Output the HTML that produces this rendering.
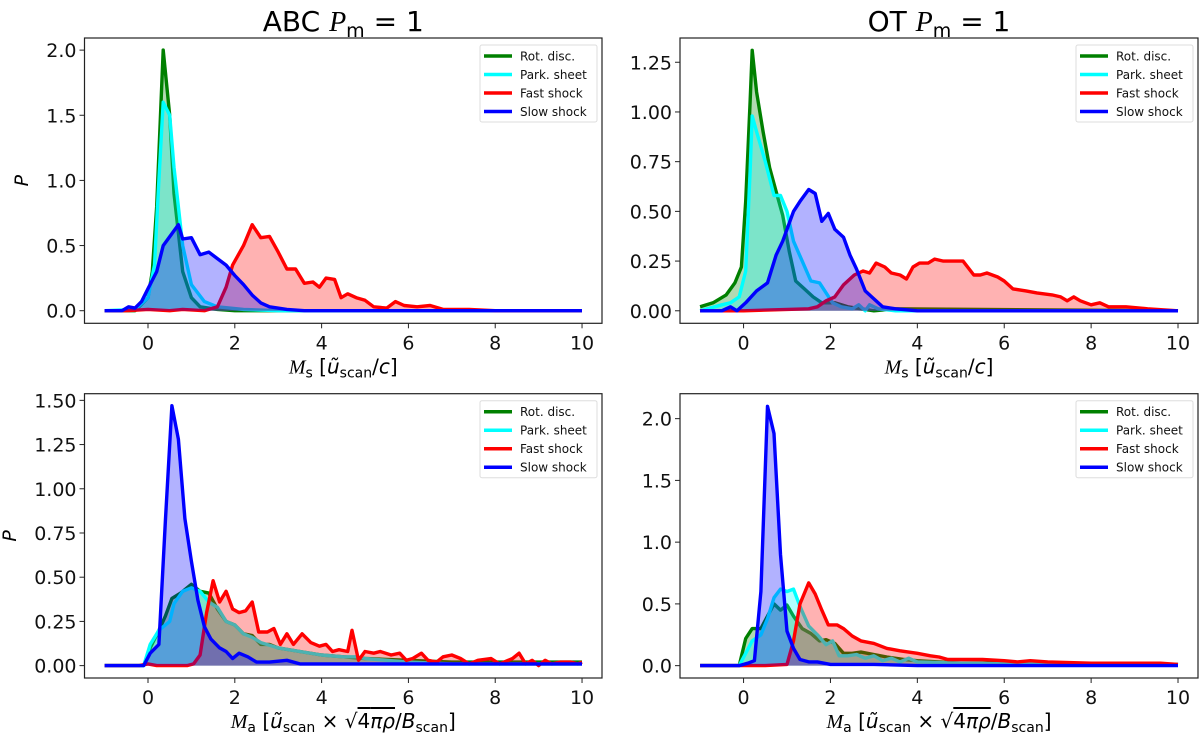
<!DOCTYPE html>
<html><head><meta charset="utf-8"><style>
body{margin:0;background:#fff;}
svg{display:block;font-family:"DejaVu Sans","Liberation Sans",sans-serif;}
</style></head><body>
<svg id="fig" width="1200" height="744" viewBox="0 0 1200 744"></svg>
<script>
const seriesNames=["Rot. disc.","Park. sheet","Fast shock","Slow shock"];
const seriesColors=["#008000","#00ffff","#ff0000","#0000ff"];
const xTicks=[0,2,4,6,8,10];
const yTicksTL=[0,0.5,1.0,1.5,2.0];
const yLabelsTL=["0.0","0.5","1.0","1.5","2.0"];
const yTicksTR=[0,0.25,0.5,0.75,1.0,1.25];
const yLabelsTR=["0.00","0.25","0.50","0.75","1.00","1.25"];
const yTicksBL=[0,0.25,0.5,0.75,1.0,1.25,1.5];
const yLabelsBL=["0.00","0.25","0.50","0.75","1.00","1.25","1.50"];
const yTicksBR=[0,0.5,1.0,1.5,2.0];
const yLabelsBR=["0.0","0.5","1.0","1.5","2.0"];

// Panel TL (ABC, Ms)
const tlRotX=[-1,-0.3,0,0.1,0.2,0.35,0.5,0.6,0.8,1.0,1.2,1.6,2,10];
const tlRotY=[0,0,0.1,0.3,0.8,2.0,1.5,0.9,0.3,0.1,0.03,0.01,0,0];
const tlParkX=[-1,-0.3,0,0.15,0.25,0.35,0.5,0.6,0.8,1,1.3,1.6,2.2,3,10];
const tlParkY=[0,0.01,0.1,0.35,1.0,1.6,1.5,1.1,0.5,0.2,0.07,0.03,0.01,0,0];
const tlFastX=[-1,-0.5,0,0.5,0.8,1.3,1.6,1.8,1.95,2.2,2.4,2.6,2.8,3.0,3.2,3.4,3.6,3.8,3.95,4.1,4.3,4.45,4.6,4.8,5.0,5.2,5.5,5.7,5.9,6.2,6.5,6.8,7.0,7.4,8,10];
const tlFastY=[0,0,0.01,0,0.01,0,0.03,0.18,0.35,0.5,0.66,0.56,0.57,0.45,0.32,0.32,0.21,0.22,0.18,0.25,0.24,0.1,0.13,0.1,0.08,0.03,0.02,0.07,0.04,0.03,0.04,0.01,0.01,0.01,0,0];
const tlSlowX=[-1,-0.6,-0.45,-0.3,-0.15,0,0.2,0.35,0.7,0.8,1.0,1.2,1.4,1.6,1.8,2.0,2.2,2.4,2.6,2.8,3.2,3.6,10];
const tlSlowY=[0,0,0.03,0.02,0.07,0.17,0.3,0.5,0.66,0.55,0.56,0.43,0.45,0.4,0.35,0.27,0.2,0.12,0.06,0.03,0.01,0,0];

// Panel TR (OT, Ms)
const trRotX=[-1,-0.7,-0.4,-0.2,-0.05,0.05,0.15,0.2,0.3,0.45,0.6,0.75,0.9,1.05,1.2,1.4,1.6,1.8,2.1,2.4,2.7,3.0,3.5,10];
const trRotY=[0.02,0.04,0.08,0.14,0.22,0.55,1.05,1.31,1.1,0.9,0.72,0.6,0.48,0.3,0.15,0.11,0.07,0.04,0.04,0.02,0.01,0,0.01,0];
const trParkX=[-1,-0.5,-0.3,-0.1,0.05,0.15,0.2,0.3,0.5,0.7,0.85,1.0,1.15,1.35,1.55,1.75,1.9,2.05,2.25,2.5,2.65,2.8,2.9,3.1,3.5,10];
const trParkY=[0,0.03,0.04,0.07,0.2,0.7,0.98,0.9,0.75,0.58,0.58,0.5,0.35,0.25,0.15,0.14,0.09,0.04,0.02,0.01,0.03,0,0.03,0.01,0,0];
const trFastX=[-1,-0.3,0,1.5,1.7,1.9,2.1,2.3,2.55,2.75,2.9,3.05,3.25,3.4,3.6,3.75,3.9,4.05,4.25,4.4,4.6,4.85,5.05,5.3,5.45,5.6,5.85,6.0,6.2,6.5,6.75,7.1,7.3,7.45,7.6,7.75,8.0,8.2,8.4,8.8,9.3,10];
const trFastY=[0,0,0,0.01,0.02,0.05,0.07,0.13,0.18,0.2,0.19,0.24,0.22,0.19,0.18,0.16,0.22,0.24,0.24,0.26,0.25,0.25,0.25,0.18,0.18,0.19,0.17,0.15,0.11,0.1,0.09,0.08,0.07,0.05,0.07,0.05,0.03,0.04,0.02,0.02,0.01,0];
const trSlowX=[-1,-0.5,-0.3,-0.15,0.05,0.3,0.55,0.75,0.9,1.15,1.3,1.5,1.65,1.8,1.95,2.1,2.3,2.45,2.6,2.8,2.95,3.2,3.5,4,10];
const trSlowY=[0,0,0.02,0,0.04,0.1,0.14,0.28,0.35,0.5,0.55,0.61,0.59,0.45,0.49,0.41,0.37,0.28,0.21,0.1,0.07,0.02,0.01,0,0];

// Panel BL (ABC, Ma)
const blRotX=[-1,-0.1,0.05,0.25,0.4,0.55,0.75,1.0,1.2,1.4,1.6,1.8,2.0,2.2,2.4,2.6,2.8,3.0,3.5,4,4.5,5,6,7,8,9,10];
const blRotY=[0,0,0.1,0.2,0.28,0.38,0.41,0.46,0.42,0.41,0.32,0.25,0.23,0.18,0.17,0.12,0.12,0.1,0.08,0.06,0.05,0.04,0.03,0.02,0.02,0.02,0.02];
const blParkX=[-1,-0.1,0.05,0.25,0.5,0.6,0.8,1.0,1.2,1.4,1.6,1.8,2.0,2.2,2.4,2.6,3.0,3.5,4,4.5,4.8,5,6,7,8,10];
const blParkY=[0,0,0.12,0.2,0.25,0.35,0.42,0.44,0.42,0.36,0.33,0.25,0.23,0.18,0.16,0.13,0.1,0.08,0.06,0.05,0.05,0.04,0.02,0.01,0.01,0.01];
const blFastX=[-1,-0.2,0,0.2,0.9,1.05,1.2,1.35,1.5,1.65,1.8,1.95,2.1,2.25,2.4,2.55,2.75,2.9,3.05,3.2,3.35,3.55,3.75,3.95,4.1,4.25,4.4,4.6,4.7,4.85,5.0,5.2,5.35,5.6,5.8,5.95,6.1,6.3,6.45,6.65,6.8,7.0,7.2,7.4,7.6,7.9,8.1,8.4,8.55,8.7,8.85,9.0,9.15,9.3,9.5,9.75,9.9,10];
const blFastY=[0,0,0.01,0,0,0.01,0.06,0.3,0.48,0.36,0.42,0.32,0.3,0.31,0.36,0.19,0.19,0.21,0.12,0.18,0.12,0.18,0.13,0.11,0.12,0.08,0.09,0.08,0.2,0.03,0.08,0.07,0.08,0.06,0.07,0.03,0.04,0.07,0.03,0.02,0.05,0.06,0.04,0.01,0.03,0.04,0.01,0.04,0.07,0.01,0.03,0.0,0.03,0.01,0.02,0.02,0.01,0.02];
const blSlowX=[-1,-0.1,0.05,0.25,0.4,0.55,0.7,0.85,1.0,1.15,1.3,1.45,1.65,1.8,1.95,2.1,2.3,2.5,2.8,3.2,3.5,4.5,6,10];
const blSlowY=[0,0,0.07,0.12,0.82,1.47,1.28,0.83,0.59,0.37,0.22,0.15,0.1,0.08,0.04,0.07,0.05,0.02,0.02,0.03,0.01,0.01,0.01,0.01];

// Panel BR (OT, Ma)
const brRotX=[-1,-0.1,0.05,0.2,0.4,0.55,0.7,0.85,1.0,1.15,1.35,1.55,1.75,1.9,2.1,2.3,2.5,2.7,3.0,3.3,3.7,4,5,6,7,8,10];
const brRotY=[0,0,0.22,0.3,0.3,0.4,0.5,0.45,0.49,0.4,0.3,0.26,0.2,0.21,0.18,0.1,0.1,0.11,0.09,0.07,0.05,0.04,0.02,0.02,0.01,0.01,0.01];
const brParkX=[-1,-0.1,0.05,0.2,0.4,0.55,0.7,0.85,1.0,1.15,1.3,1.5,1.7,1.9,2.05,2.2,2.4,2.6,2.8,3.0,3.2,3.4,3.6,3.8,4,5,7,10];
const brParkY=[0,0,0.1,0.2,0.25,0.38,0.55,0.62,0.6,0.62,0.48,0.32,0.25,0.17,0.2,0.08,0.08,0.09,0.06,0.08,0.04,0.06,0.03,0.06,0.03,0.02,0.01,0.01];
const brFastX=[-1,0,0.5,1.0,1.15,1.3,1.5,1.65,1.8,1.95,2.15,2.3,2.5,2.7,3.0,3.3,3.6,4,4.3,4.5,4.7,5,5.5,6,6.3,6.6,7,8,9,9.6,10];
const brFastY=[0,0,0,0.01,0.2,0.5,0.67,0.58,0.45,0.33,0.33,0.3,0.24,0.2,0.18,0.14,0.12,0.1,0.08,0.07,0.05,0.05,0.05,0.04,0.03,0.04,0.03,0.02,0.02,0.02,0.01];
const brSlowX=[-1,-0.1,0.1,0.25,0.4,0.55,0.7,0.85,1.0,1.15,1.3,1.5,1.7,2,3,4,10];
const brSlowY=[0,0,0.02,0.04,0.6,2.1,1.88,0.9,0.28,0.14,0.05,0.03,0.03,0.01,0.01,0,0];

const NS="http://www.w3.org/2000/svg";
const svg=document.getElementById('fig');
function mk(tag,attrs,parent){const e=document.createElementNS(NS,tag);for(const k in attrs)e.setAttribute(k,attrs[k]);(parent||svg).appendChild(e);return e;}

const panels=[
 {key:"tl",L:84.5,R:602,T:38,B:323.3,xmin:-1.463,xmax:10.46,ymin:-0.0967,ymax:2.093,yt:yTicksTL,yl:yLabelsTL,
  series:[[tlRotX,tlRotY],[tlParkX,tlParkY],[tlFastX,tlFastY],[tlSlowX,tlSlowY]],title:"ABC",ylab:true,xl:"s",yLabX:28},
 {key:"tr",L:680,R:1198,T:38,B:323.3,xmin:-1.463,xmax:10.46,ymin:-0.063,ymax:1.372,yt:yTicksTR,yl:yLabelsTR,
  series:[[trRotX,trRotY],[trParkX,trParkY],[trFastX,trFastY],[trSlowX,trSlowY]],title:"OT",ylab:false,xl:"s"},
 {key:"bl",L:84.5,R:602,T:393.7,B:678,xmin:-1.463,xmax:10.46,ymin:-0.07,ymax:1.5376,yt:yTicksBL,yl:yLabelsBL,
  series:[[blRotX,blRotY],[blParkX,blParkY],[blFastX,blFastY],[blSlowX,blSlowY]],title:null,ylab:true,xl:"a",yLabX:16},
 {key:"br",L:680,R:1198,T:393.7,B:678,xmin:-1.463,xmax:10.46,ymin:-0.1,ymax:2.202,yt:yTicksBR,yl:yLabelsBR,
  series:[[brRotX,brRotY],[brParkX,brParkY],[brFastX,brFastY],[brSlowX,brSlowY]],title:null,ylab:false,xl:"a"}
];

panels.forEach(p=>{
  const g=mk('g',{});
  
  
  const sx=v=>p.L+(v-p.xmin)/(p.xmax-p.xmin)*(p.R-p.L);
  const sy=v=>p.B-(v-p.ymin)/(p.ymax-p.ymin)*(p.B-p.T);
  const cid='clip-'+p.key;
  const cp=mk('clipPath',{id:cid},g);
  mk('rect',{x:p.L,y:p.T,width:p.R-p.L,height:p.B-p.T},cp);
  const plot=mk('g',{'clip-path':'url(#'+cid+')'},g);
  p.series.forEach((s,i)=>{
    const xs=s[0],ys=s[1];
    let pts=xs.map((x,j)=>sx(x).toFixed(1)+','+sy(ys[j]).toFixed(1));
    const fillPts=[sx(xs[0]).toFixed(1)+','+sy(0).toFixed(1)].concat(pts,[sx(xs[xs.length-1]).toFixed(1)+','+sy(0).toFixed(1)]);
    const f=mk('polygon',{points:fillPts.join(' '),fill:seriesColors[i],'fill-opacity':0.3,stroke:'none'},plot);
    
    
    const l=mk('polyline',{points:pts.join(' '),fill:'none',stroke:seriesColors[i],'stroke-width':3.4,'stroke-linejoin':'round'},plot);
    
    
  });
  const fr=mk('rect',{x:p.L,y:p.T,width:p.R-p.L,height:p.B-p.T,fill:'none',stroke:'#222','stroke-width':1.2},g);
  
  
  xTicks.forEach(t=>{
    const x=sx(t);
    mk('line',{x1:x,x2:x,y1:p.B,y2:p.B+5,stroke:'#222','stroke-width':1},g);
    const tx=mk('text',{x:x,y:p.B+26,'font-size':19,'text-anchor':'middle',fill:'#111'},g);
    tx.textContent=String(t);
    
    
  });
  p.yt.forEach((t,k)=>{
    const y=sy(t);
    mk('line',{x1:p.L-5,x2:p.L,y1:y,y2:y,stroke:'#222','stroke-width':1},g);
    const tx=mk('text',{x:p.L-8,y:y+7,'font-size':19,'text-anchor':'end',fill:'#111'},g);
    tx.textContent=p.yl[k];
    
    
  });
  const cx=(p.L+p.R)/2;
  if(p.title){
    const t=mk('text',{x:cx,y:31,'font-size':28,'text-anchor':'middle',fill:'#000'},g);
    t.innerHTML=p.title+' <tspan font-family="Liberation Serif" font-style="italic">P</tspan><tspan font-size="19" dy="6">m</tspan><tspan dy="-6"> = 1</tspan>';
    
    
  }
  if(p.ylab){
    const yc=(p.T+p.B)/2;
    const t=mk('text',{x:p.yLabX,y:yc,'font-size':19,'text-anchor':'middle','font-style':'italic',transform:'rotate(-90 '+p.yLabX+' '+yc+')'},g);
    t.textContent='P';
    
    
  }
  const xt=mk('text',{x:cx,y:p.B+50,'font-size':20,'text-anchor':'middle',fill:'#000'},g);
  if(p.xl==='s'){
    xt.innerHTML='<tspan font-family="Liberation Serif" font-style="italic">M</tspan><tspan font-size="14" dy="4">s</tspan><tspan dy="-4"> [</tspan><tspan font-style="italic">ũ</tspan><tspan font-size="14" dy="4">scan</tspan><tspan dy="-4">/</tspan><tspan font-style="italic">c</tspan>]';
  } else {
    xt.innerHTML='<tspan font-family="Liberation Serif" font-style="italic">M</tspan><tspan font-size="14" dy="4">a</tspan><tspan dy="-4"> [</tspan><tspan font-style="italic">ũ</tspan><tspan font-size="14" dy="4">scan</tspan><tspan dy="-4"> × √</tspan><tspan text-decoration="overline">4<tspan font-style="italic">πρ</tspan></tspan>/<tspan font-style="italic">B</tspan><tspan font-size="14" dy="4">scan</tspan><tspan dy="-4">]</tspan>';
  }
  
  
  const lg=mk('g',{},g);
  
  
  const lx=p.R-122, ly=p.T+7;
  mk('rect',{x:lx,y:ly,width:117,height:77,fill:'#fff','fill-opacity':0.85,stroke:'#ddd','stroke-width':1,rx:2},lg);
  seriesNames.forEach((n,i)=>{
    const yy=ly+11+i*18.5;
    const e=mk('g',{},lg);
    
    
    mk('line',{x1:lx+4,x2:lx+32,y1:yy,y2:yy,stroke:seriesColors[i],'stroke-width':3.5},e);
    const t=mk('text',{x:lx+40,y:yy+4.5,'font-size':12,fill:'#111'},e);
    t.textContent=n;
  });
});
</script>
</body></html>
